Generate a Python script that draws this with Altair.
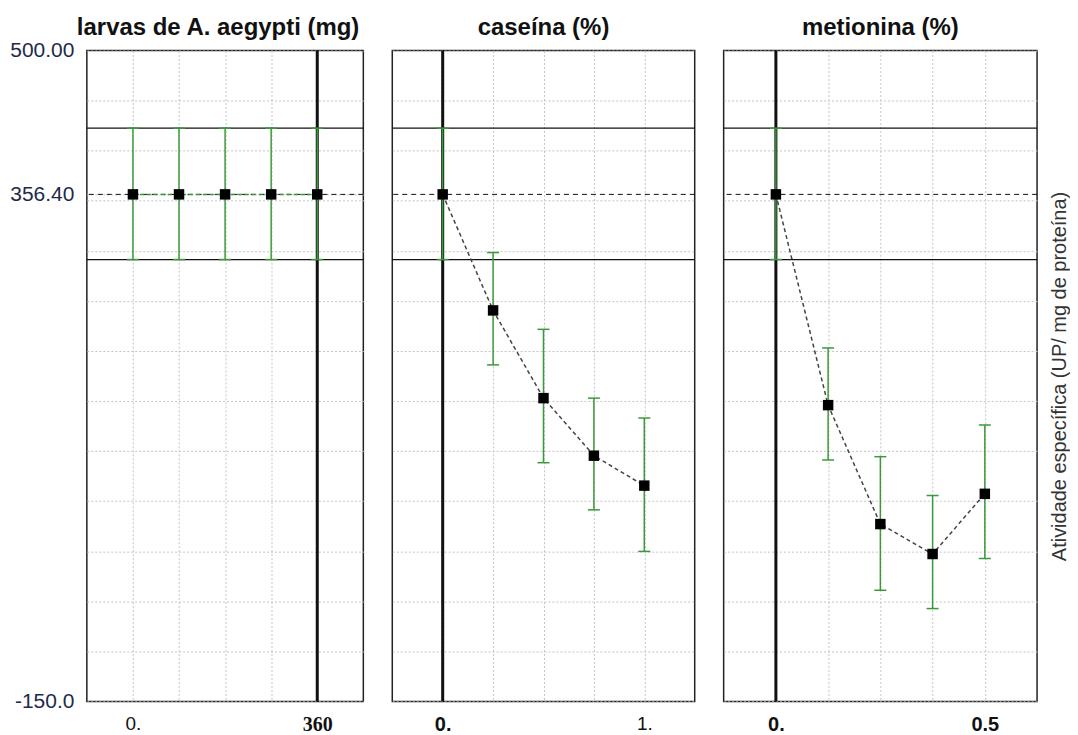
import altair as alt
import pandas as pd

# ---------------- data ----------------
larvas_x = [0, 90, 180, 270, 360]
larvas_mean = [356.4, 356.4, 356.4, 356.4, 356.4]
larvas_lo = [291.3, 291.3, 291.3, 291.3, 291.3]
larvas_hi = [422.5, 422.5, 422.5, 422.5, 422.5]

caseina_x = [0.0, 0.25, 0.5, 0.75, 1.0]
caseina_mean = [356.4, 240.5, 152.9, 95.4, 65.5]
caseina_lo = [291.3, 186.1, 88.4, 41.3, -0.2]
caseina_hi = [422.5, 298.3, 221.6, 152.9, 133.0]

metionina_x = [0.0, 0.125, 0.25, 0.375, 0.5]
metionina_mean = [356.4, 145.9, 27.1, -2.8, 57.3]
metionina_lo = [291.3, 91.1, -39.0, -57.3, -7.2]
metionina_hi = [422.5, 203.0, 94.4, 55.6, 126.0]

band_limits = [291.3, 422.5]
overall_mean = [356.4]
current_levels = [360, 0.0, 0.0]

panel_titles = ["larvas de A. aegypti (mg)", "caseína (%)", "metionina (%)"]
y_title = "Atividade específica (UP/ mg de proteína)"

y_grid = [-150, -100, -50, 0, 50, 100, 150, 200, 250, 300, 350, 400, 450, 500]
y_label_values = [-150, 356.4, 500]
y_label_texts = ["-150.0", "356.40", "500.00"]

x_domains = [[-90, 450], [-0.25, 1.25], [-0.125, 0.625]]
x_label_values = [[0, 360], [0.0, 1.0], [0.0, 0.5]]
x_label_texts = [["0.", "360"], ["0.", "1."], ["0.", "0.5"]]
x_bold_values = [[360], [0.0], [0.0, 0.5]]
x_serif_values = [[360], [], []]

panel_widths = [277, 303, 314]
title_offsets = [-19, -10, -10]
title_dx = [-7, 0, 0]
PANEL_H = 652

GREEN = "#3a9a3a"
GRID = "#c4c4c4"


def label_expr(values, texts):
    expr = "''"
    for v, t in reversed(list(zip(values, texts))):
        expr = f"abs(datum.value - ({v})) < 1e-6 ? '{t}' : {expr}"
    return expr


def test_expr(values):
    if not values:
        return "false"
    return " || ".join(f"abs(datum.value - ({v})) < 1e-6" for v in values)


yscale = alt.Scale(domain=[-150, 500], nice=False, zero=False)


def panel(i, xs, mean, lo, hi, line_color, show_labels, right_title):
    df = pd.DataFrame({"x": xs, "m": mean, "lo": lo, "hi": hi})
    band = pd.DataFrame({"v": band_limits})
    mdf = pd.DataFrame({"v": overall_mean})
    cdf = pd.DataFrame({"x": [current_levels[i]]})
    xscale = alt.Scale(domain=x_domains[i], nice=False, zero=False)

    if show_labels:
        yaxis = alt.Axis(
            values=y_grid + y_label_values[1:2],
            labelExpr=label_expr(y_label_values, y_label_texts),
            grid=True, gridColor=GRID, gridDash=[2, 2], gridWidth=1,
            ticks=False, tickSize=0, domain=False, title=None,
            labelFont="Liberation Sans", labelFontSize=21, labelColor="#1e2a4a",
            labelPadding=13, labelFlush=False, labelOverlap=False,
        )
    elif right_title:
        yaxis = alt.Axis(
            orient="right", values=y_grid, labels=False, grid=True, gridColor=GRID,
            gridDash=[2, 2], gridWidth=1, ticks=False, tickSize=0, domain=False,
            title=right_title, titleAngle=270, titleBaseline="top",
            titleFont="Liberation Sans", titleFontSize=20, titleFontWeight="normal",
            titleColor="#333", titlePadding=12,
        )
    else:
        yaxis = alt.Axis(
            values=y_grid, labels=False, grid=True, gridColor=GRID,
            gridDash=[2, 2], gridWidth=1, ticks=False, tickSize=0,
            domain=False, title=None,
        )

    bold_t = test_expr(x_bold_values[i])
    xaxis = alt.Axis(
        values=xs,
        labelExpr=label_expr(x_label_values[i], x_label_texts[i]),
        grid=True, gridColor=GRID, gridDash=[2, 2], gridWidth=1,
        ticks=False, tickSize=0, domain=False, title=None,
        labelFont={"condition": {"test": test_expr(x_serif_values[i]), "value": "Liberation Serif"},
                   "value": "Liberation Sans"},
        labelFontWeight={"condition": {"test": bold_t, "value": "bold"}, "value": "normal"},
        labelFontSize={"condition": {"test": bold_t, "value": 20}, "value": 19},
        labelBaseline="top",
        labelColor="#111", labelPadding=13, labelFlush=False, labelOverlap=False,
    )

    X = alt.X("x:Q", scale=xscale, axis=xaxis)

    def Y(field):
        return alt.Y(field, type="quantitative", scale=yscale, axis=yaxis)

    band_layer = alt.Chart(band).mark_rule(color="#111", strokeWidth=1.2).encode(y=Y("v"))
    mean_layer = alt.Chart(mdf).mark_rule(color="#111", strokeWidth=1, strokeDash=[5, 4]).encode(y=Y("v"))
    cur_layer = alt.Chart(cdf).mark_rule(color="#111", strokeWidth=3).encode(x=X)
    base = alt.Chart(df)
    line_layer = base.mark_line(color=line_color, strokeWidth=1.5, strokeDash=[4, 3]).encode(x=X, y=Y("m"))
    err_layer = base.mark_rule(color=GREEN, strokeWidth=1.5).encode(x=X, y=Y("lo"), y2="hi:Q")
    cap_lo = base.mark_tick(color=GREEN, orient="horizontal", size=12, thickness=1.5, opacity=1).encode(
        x=X, y=Y("lo"))
    cap_hi = base.mark_tick(color=GREEN, orient="horizontal", size=12, thickness=1.5, opacity=1).encode(
        x=X, y=Y("hi"))
    pts = base.mark_square(size=110, color="black", filled=True, opacity=1).encode(x=X, y=Y("m"))
    layered = alt.layer(band_layer, mean_layer, cur_layer, line_layer, err_layer, cap_lo, cap_hi, pts)
    return layered.properties(
        width=panel_widths[i], height=PANEL_H,
        title=alt.TitleParams(
            text=panel_titles[i], font="Liberation Sans", fontSize=24, fontWeight="bold",
            color="#111", anchor="middle", baseline="alphabetic", offset=title_offsets[i],
            dx=title_dx[i], frame="group",
        ),
    )


p1 = panel(0, larvas_x, larvas_mean, larvas_lo, larvas_hi, GREEN, True, None)
p2 = panel(1, caseina_x, caseina_mean, caseina_lo, caseina_hi, "#444", False, None)
p3 = panel(2, metionina_x, metionina_mean, metionina_lo, metionina_hi, "#444", False, y_title)

chart = alt.hconcat(p1, p2, p3, spacing=25).properties(
    padding={"left": 1, "top": 6, "right": 0, "bottom": 0},
    background="white",
).configure_view(stroke="#222", strokeWidth=1.5)

chart.save("out.html", embed_options={"renderer": "svg", "actions": False})
